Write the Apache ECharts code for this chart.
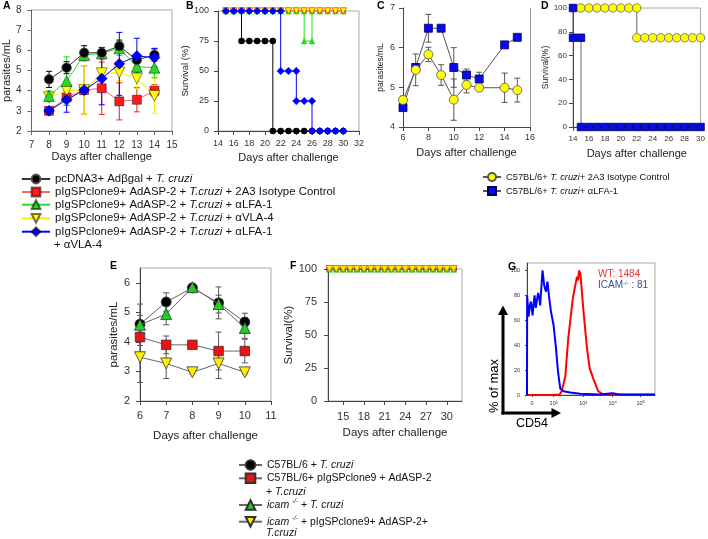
<!DOCTYPE html>
<html><head><meta charset="utf-8">
<script src="https://cdn.jsdelivr.net/npm/echarts@6/dist/echarts.min.js"></script>
<style>html,body{margin:0;padding:0;background:#fff}#c{width:708px;height:539px}</style>
</head><body><div id="c"></div><script>
// ---------------- DATA ----------------
// Panel A : parasitemia
const daysA = [8, 9, 10, 11, 12, 13, 14];
const aBlack = [4.56, 5.14, 5.88, 5.88, 6.21, 5.52, 5.77];
const aBlackErr = [0.4, 0.3, 0.35, 0.25, 0.3, 0.3, 0.3];
const aRed = [3.0, 3.67, 4.03, 4.12, 3.47, 3.55, 4.0];
const aRedErr = [0.1, 0.4, 1.2, 1.3, 0.92, 0.6, 0.3];
const aGreen = [3.74, 4.48, 5.77, 5.85, 6.1, 5.19, 5.14];
const aGreenErr = [0.25, 1.2, 0.3, 0.3, 0.35, 0.3, 0.5];
const aYellow = [3.67, 4.0, 4.03, 4.86, 4.9, 4.6, 3.74];
const aYellowErr = [0.2, 0.5, 1.2, 0.3, 0.4, 0.5, 0.86];
const aBlue = [3.0, 3.55, 4.03, 4.6, 5.33, 5.72, 5.64];
const aBlueErr = [0.1, 0.62, 0.2, 1.3, 1.56, 0.88, 0.46];

// Panel B : survival
const bBlackDays = [15,16,17,17,18,19,20,21,21,22,23,24,25,26,27,28,29,30];
const bBlackSurv = [100,100,100,75,75,75,75,75,0,0,0,0,0,0,0,0,0,0];
const bRedDays = [15,16,17,18,19,20,21,22,23,24,25,26,27,28,29,30];
const bRedSurv = [100,100,100,100,100,100,100,100,100,100,100,100,100,100,100,100];
const bGreenDays = [15,16,17,18,19,20,21,22,23,24,25,25,26,26,27,28,29,30];
const bGreenSurv = [100,100,100,100,100,100,100,100,100,100,100,75,75,100,100,100,100,100];
const bYellowDays = [15,16,17,18,19,20,21,22,23,24,25,26,27,28,29,30];
const bYellowSurv = [100,100,100,100,100,100,100,100,100,100,100,100,100,100,100,100];
const bBlueDays = [15,16,17,18,19,20,21,22,22,23,24,24,25,26,26,27,28,29,30];
const bBlueSurv = [100,100,100,100,100,100,100,100,50,50,50,25,25,25,0,0,0,0,0];

// Panel C : parasitemia
const daysC = [6, 7, 8, 9, 10, 11, 12, 14, 15];
const cYellow = [4.68, 5.44, 5.83, 5.31, 4.69, 5.06, 4.99, 4.99, 4.93];
const cYellowErr = [0.1, 0.4, 0.18, 0.26, 0.52, 0.2, 0.05, 0.37, 0.3];
const cBlue = [4.49, 5.5, 6.49, 6.49, 5.5, 5.31, 5.21, 6.07, 6.26];
const cBlueErr = [0.05, 0.1, 0.35, 0.05, 0.5, 0.15, 0.17, 0, 0];

// Panel D : survival
const dYellowDays = [15,16,17,18,19,20,21,22,22,23,24,25,26,27,28,29,30];
const dYellowSurv = [100,100,100,100,100,100,100,100,75,75,75,75,75,75,75,75,75];
const dBlueDays = [14,14,15,15,16,17,18,19,20,21,22,23,24,25,26,27,28,29,30];
const dBlueSurv = [100,75,75,0,0,0,0,0,0,0,0,0,0,0,0,0,0,0,0];

// Panel E : parasitemia
const daysE = [6, 7, 8, 9, 10];
const eBlack = [4.6, 5.35, 5.83, 5.32, 4.67];
const eBlackErr = [0.3, 0.31, 0.05, 0.54, 0.3];
const eRed = [4.16, 3.9, 3.9, 3.69, 3.69];
const eRedErr = [0.15, 0.3, 0.05, 0.64, 0.4];
const eGreen = [4.58, 4.94, 5.85, 5.28, 4.47];
const eGreenErr = [0.7, 0.36, 0.05, 0.3, 0.35];
const eYellow = [3.48, 3.27, 2.97, 3.27, 2.97];
const eYellowErr = [0.85, 0.51, 0.05, 0.51, 0.05];
const eYTicks = [2, 3, 4, 5, 6];

// Panel F : survival (all 100%)
const daysF = [13,14,15,16,17,18,19,20,21,22,23,24,25,26,27,28,29,30,31];
const fSurv = [100,100,100,100,100,100,100,100,100,100,100,100,100,100,100,100,100,100,100];
const fXTicks = [15, 18, 21, 24, 27, 30];

// Panel G : CD54 histogram (channel position, % of max)
const gBlueX = [-17,-16.5,-11.6,-7,-3.4,2,6,8.9,13,17,21,25,28,30.7,36,42,48,53,59,65,74,82,89,97,108,131,165,233,274,301,421];
const gBlueY = [0,80,63,72,75,64,74,80,70,76,82,78,72,72,100,88,83,91,78,67,56,38,19,5,3,2,1,0.5,1.5,0.5,0.5];
const gRedX = [-17,60,95,102,114,124,140,154,158,161,166,176,188,197,210,227,243,300,421];
const gRedY = [0,0,0.5,3,15,45,78,95,92,100,97,68,38,22,13,3,0.5,0.3,0.3];
const gTickPos = [0, 74, 175, 276, 372];
const gTickLab = ['0', '10²', '10³', '10⁴', '10⁵'];
const gYTicks = [0, 20, 40, 60, 80, 100];

// Legend names
const NA = ['pcDNA3+ Adβgal + T. cruzi',
  'pIgSPclone9+ AdASP-2 + T.cruzi + 2A3 Isotype Control',
  'pIgSPclone9+ AdASP-2 + T.cruzi + αLFA-1',
  'pIgSPclone9+ AdASP-2 + T.cruzi + αVLA-4',
  'pIgSPclone9+ AdASP-2 + T.cruzi + αLFA-1 + αVLA-4'];
const NC = ['C57BL/6+ T. cruzi+ 2A3 Isotype Control', 'C57BL/6+ T. cruzi+ αLFA-1'];
const NE = ['C57BL/6 + T. cruzi', 'C57BL/6+ pIgSPclone9 + AdASP-2 + T.cruzi',
  'icam-/- + T. cruzi', 'icam-/- + pIgSPclone9+ AdASP-2+ T.cruzi'];

// ---------------- CHART ----------------
const FF = '"Liberation Sans", Arial, sans-serif';
const richMap = {};
richMap[NA[0]] = '{r|pcDNA3+ Adβgal + }{i|T. cruzi}';
richMap[NA[1]] = '{r|pIgSPclone9+ AdASP-2 + }{i|T.cruzi}{r| + 2A3 Isotype Control}';
richMap[NA[2]] = '{r|pIgSPclone9+ AdASP-2 + }{i|T.cruzi}{r| + αLFA-1}';
richMap[NA[3]] = '{r|pIgSPclone9+ AdASP-2 + }{i|T.cruzi}{r| + αVLA-4}';
richMap[NA[4]] = '{r|pIgSPclone9+ AdASP-2 + }{i|T.cruzi}{r| + αLFA-1}';
richMap[NC[0]] = '{r|C57BL/6+ }{i|T. cruzi}{r|+ 2A3 Isotype Control}';
richMap[NC[1]] = '{r|C57BL/6+ }{i|T. cruzi}{r|+ αLFA-1}';
richMap[NE[0]] = '{r|C57BL/6 + }{i|T. cruzi}';
richMap[NE[1]] = '{r|C57BL/6+ pIgSPclone9 + AdASP-2}';
richMap[NE[2]] = '{i|icam }{s|-/-}{r| + }{i|T. cruzi}';
richMap[NE[3]] = '{i|icam }{s|-/-}{r| + pIgSPclone9+ AdASP-2+}';

function mkRich(fs, lh) {
  return {
    r: {fontFamily: FF, fontSize: fs, color: '#111', lineHeight: lh},
    i: {fontFamily: FF, fontSize: fs, color: '#111', lineHeight: lh, fontStyle: 'italic'},
    s: {fontFamily: FF, fontSize: fs * 0.6, color: '#111', lineHeight: lh, fontStyle: 'italic', verticalAlign: 'top'}
  };
}
function leg(name, left, cy, iw, ih, lh, fs) {
  return {show: true, data: [name], left: left, top: cy - lh / 2, padding: 0,
    itemWidth: iw, itemHeight: ih, itemGap: 0, orient: 'horizontal', selectedMode: false,
    formatter: n => richMap[n],
    textStyle: {fontFamily: FF, fontSize: fs, color: '#111', lineHeight: lh, rich: mkRich(fs, lh)}};
}

function ax(o) {
  const a = {
    type: 'value', gridIndex: o.g, min: o.min, max: o.max, interval: o.iv,
    name: o.name || '', nameLocation: 'middle', nameGap: o.ng || 20,
    nameTextStyle: {fontFamily: FF, fontSize: o.nfs || 11, color: '#222'},
    axisLine: {show: true, onZero: false, lineStyle: {color: o.lc || '#444', width: 1}},
    axisTick: {show: o.noTick ? false : true, length: o.tl || 4, lineStyle: {color: o.lc || '#444'}},
    axisLabel: {show: o.noLab ? false : true, fontFamily: FF, fontSize: o.fs || 9, color: '#333', margin: o.m || 8},
    splitLine: {show: false}
  };
  if (o.cv) { a.axisTick.customValues = o.cv; a.axisLabel.customValues = o.cv; }
  if (o.fmt) a.axisLabel.formatter = o.fmt;
  if (o.pos) a.position = o.pos;
  return a;
}
function grid(l, t, w, h, border) {
  return {left: l, top: t, width: w, height: h, containLabel: false,
    show: !!border, borderColor: '#aaa', borderWidth: 1, backgroundColor: 'transparent'};
}
function pairs(xs, ys) { return xs.map((x, i) => [x, ys[i]]); }
function triples(xs, ys, es) { return xs.map((x, i) => [x, ys[i], es[i]]); }

function lineS(name, xi, yi, data, sym, size, fill, lineColor, border, z, rot) {
  return {type: 'line', name: name, xAxisIndex: xi, yAxisIndex: yi, data: data,
    symbol: sym, symbolSize: size, symbolRotate: rot || 0, showSymbol: true,
    lineStyle: {color: lineColor, width: 1},
    itemStyle: {color: fill, borderColor: border || fill, borderWidth: border ? 0.8 : 0, opacity: 1},
    emphasis: {disabled: true}, animation: false, z: z || 3, clip: false};
}
function errS(xi, yi, data, color, cap) {
  return {type: 'custom', xAxisIndex: xi, yAxisIndex: yi, data: data, z: 2, animation: false,
    encode: {x: 0, y: 1},
    renderItem: function (params, api) {
      const x = api.value(0), y = api.value(1), e = api.value(2);
      if (!e) return null;
      const hi = api.coord([x, y + e]), lo = api.coord([x, y - e]);
      const st = {stroke: color, lineWidth: 1};
      return {type: 'group', children: [
        {type: 'line', shape: {x1: hi[0], y1: hi[1], x2: lo[0], y2: lo[1]}, style: st},
        {type: 'line', shape: {x1: hi[0] - cap, y1: hi[1], x2: hi[0] + cap, y2: hi[1]}, style: st},
        {type: 'line', shape: {x1: lo[0] - cap, y1: lo[1], x2: lo[0] + cap, y2: lo[1]}, style: st}
      ]};
    }};
}

const grids = [
  grid(29, 10, 143, 121, true),    // A 0
  grid(218, 11, 141, 120, true),   // B 1
  grid(403, 8, 127, 119, false),   // C 2
  grid(573, 8, 128, 119, true),    // D 3
  grid(140, 268, 131, 133, true),  // E 4
  grid(328, 269, 134, 132, true),  // F 5
  grid(527, 263, 128, 132, true)   // G 6
];
const xAxes = [
  ax({g: 0, min: 7, max: 15, iv: 1, fs: 10, m: 9, name: 'Days after challenge', ng: 20, nfs: 11, lc: '#666'}),
  ax({g: 1, min: 14, max: 32, iv: 2, fs: 9, m: 8, name: 'Days after challenge', ng: 21, nfs: 11}),
  ax({g: 2, min: 6, max: 16, iv: 2, fs: 9, m: 6, name: 'Days after challenge', ng: 20, nfs: 11}),
  ax({g: 3, min: 14, max: 30, iv: 2, fs: 8, m: 8, name: 'Days after challenge', ng: 21, nfs: 11}),
  ax({g: 4, min: 6, max: 11, iv: 1, fs: 11, m: 9, name: 'Days after challenge', ng: 29, nfs: 11.5}),
  ax({g: 5, min: 12.8, max: 32.2, iv: 3, cv: fXTicks, fs: 11, m: 10, name: 'Days after challenge', ng: 26, nfs: 11.5}),
  ax({g: 6, min: -17, max: 421, iv: 100, cv: gTickPos, fs: 5.5, m: 5, tl: 2,
      fmt: v => { const k = gTickPos.indexOf(v); return k >= 0 ? gTickLab[k] : ''; }})
];
const yAxes = [
  ax({g: 0, min: 2, max: 8, iv: 1, fs: 10, m: 10, name: 'parasites/mL', ng: 19, nfs: 11, lc: '#666'}),
  ax({g: 1, min: 0, max: 100, iv: 25, fs: 9, m: 9, name: 'Survival (%)', ng: 23, nfs: 9.5}),
  ax({g: 2, min: 4, max: 7, iv: 1, fs: 9, m: 8, name: 'parasites/mL', ng: 18, nfs: 8.5}),
  ax({g: 3, min: 0, max: 100, iv: 20, fs: 8, m: 6, name: 'Survival(%)', ng: 20, nfs: 8.5}),
  ax({g: 4, min: 2, max: 6.5, iv: 1, cv: eYTicks, fs: 11, m: 10, name: 'parasites/mL', ng: 20, nfs: 11.5}),
  ax({g: 5, min: 0, max: 100, iv: 25, fs: 11, m: 11, name: 'Survival(%)', ng: 28, nfs: 11.5}),
  ax({g: 6, min: 0, max: 106, iv: 20, cv: gYTicks, fs: 5.5, m: 7, tl: 2}),
  ax({g: 2, min: 4, max: 7, iv: 1, pos: 'right', noTick: true, noLab: true, lc: '#999'})
];

const K = '#000', R = '#ff1a1a', G = '#22dd22', Y = '#ffff00', B = '#0000ff';
const dark = 'rgba(0,0,0,0.55)';
const series = [
  // A
  errS(0, 0, triples(daysA, aRed, aRedErr), R, 3),
  errS(0, 0, triples(daysA, aYellow, aYellowErr), '#f2f200', 3),
  errS(0, 0, triples(daysA, aGreen, aGreenErr), G, 3),
  errS(0, 0, triples(daysA, aBlack, aBlackErr), K, 3),
  errS(0, 0, triples(daysA, aBlue, aBlueErr), B, 3),
  lineS(NA[1], 0, 0, pairs(daysA, aRed), 'rect', 9, R, '#ff6666', dark, 3),
  lineS(NA[3], 0, 0, pairs(daysA, aYellow), 'triangle', 11, Y, '#f2f200', dark, 4, 180),
  lineS(NA[2], 0, 0, pairs(daysA, aGreen), 'triangle', 11, G, G, dark, 5),
  lineS(NA[0], 0, 0, pairs(daysA, aBlack), 'circle', 9.5, K, '#333', '#555', 6),
  lineS(NA[4], 0, 0, pairs(daysA, aBlue), 'diamond', 11, B, B, dark, 7),
  // B
  lineS(NA[0], 1, 1, pairs(bBlackDays, bBlackSurv), 'circle', 6.5, K, K, null, 3),
  lineS(NA[1], 1, 1, pairs(bRedDays, bRedSurv), 'rect', 5, R, '#ff6600', null, 4),
  lineS(NA[2], 1, 1, pairs(bGreenDays, bGreenSurv), 'triangle', 6.5, G, G, null, 5),
  lineS(NA[3], 1, 1, pairs(bYellowDays, bYellowSurv), 'triangle', 6.5, Y, '#ff9900', '#ff3300', 6, 180),
  lineS(NA[4], 1, 1, pairs(bBlueDays, bBlueSurv), 'diamond', 8, B, B, null, 7),
  // C
  errS(2, 2, triples(daysC, cYellow, cYellowErr), '#555', 3),
  errS(2, 2, triples(daysC, cBlue, cBlueErr), '#555', 3),
  lineS(NC[1], 2, 2, pairs(daysC, cBlue), 'rect', 8, '#0a0ae6', '#555', '#000066', 4),
  lineS(NC[0], 2, 2, pairs(daysC, cYellow), 'circle', 9, '#ffff00', '#555', '#555', 5),
  // D
  lineS(NC[0], 3, 3, pairs(dYellowDays, dYellowSurv), 'circle', 8.5, '#ffff00', '#666', '#666', 4),
  lineS(NC[1], 3, 3, pairs(dBlueDays, dBlueSurv), 'rect', 7.5, '#0a0ae6', '#666', '#000066', 5),
  // E
  errS(4, 4, triples(daysE, eBlack, eBlackErr), '#555', 3),
  errS(4, 4, triples(daysE, eRed, eRedErr), '#555', 3),
  errS(4, 4, triples(daysE, eGreen, eGreenErr), '#555', 3),
  errS(4, 4, triples(daysE, eYellow, eYellowErr), '#555', 3),
  lineS(NE[1], 4, 4, pairs(daysE, eRed), 'rect', 9.5, '#ee1111', '#666', '#333', 3),
  lineS(NE[3], 4, 4, pairs(daysE, eYellow), 'triangle', 11, '#ffee00', '#666', '#333', 4, 180),
  lineS(NE[0], 4, 4, pairs(daysE, eBlack), 'circle', 10, '#000', '#666', '#333', 5),
  lineS(NE[2], 4, 4, pairs(daysE, eGreen), 'triangle', 11, '#22cc22', '#666', '#333', 6),
  // F
  lineS('F-black', 5, 5, pairs(daysF, fSurv), 'circle', 6, '#000', '#666', null, 3),
  lineS('F-red', 5, 5, pairs(daysF, fSurv), 'rect', 5, '#ee1111', '#cc3300', null, 4),
  lineS('F-green', 5, 5, pairs(daysF, fSurv), 'triangle', 7, '#22cc22', '#cc3300', null, 5),
  lineS('F-yellow', 5, 5, pairs(daysF, fSurv), 'triangle', 7, '#ffee00', '#cc6600', '#aa7700', 6, 180),
  // G
  {type: 'line', xAxisIndex: 6, yAxisIndex: 6, data: pairs(gRedX, gRedY), showSymbol: false, symbol: 'none',
   lineStyle: {color: '#ff0000', width: 2}, animation: false, z: 3},
  {type: 'line', xAxisIndex: 6, yAxisIndex: 6, data: pairs(gBlueX, gBlueY), showSymbol: false, symbol: 'none',
   lineStyle: {color: '#0000ff', width: 2}, animation: false, z: 4}
];

const LFS = 11.4;
const legends = [
  leg(NA[0], 21, 179, 28, 11, 13, LFS),
  leg(NA[1], 21, 192, 28, 11, 13, LFS),
  leg(NA[2], 21, 204.7, 28, 11, 13, LFS),
  leg(NA[3], 21, 218.3, 28, 11, 13, LFS),
  leg(NA[4], 21, 231.7, 28, 11, 13, LFS),
  leg(NC[0], 482, 177, 18, 10, 12, 9.3),
  leg(NC[1], 482, 191, 18, 10, 12, 9.3),
  leg(NE[0], 238, 465, 23, 12, 13, 10.5),
  leg(NE[1], 238, 478.3, 23, 12, 13, 10.5),
  leg(NE[2], 238, 505, 23, 12, 13, 10.5),
  leg(NE[3], 238, 521.7, 23, 12, 13, 10.5)
];

function txt(x, y, text, font, fill, extra) {
  const o = {type: 'text', x: x, y: y, silent: true,
    style: Object.assign({text: text, font: font, fill: fill || '#000', align: 'left', verticalAlign: 'middle'}, extra || {})};
  return o;
}
const bold = 'bold 10.5px ' + FF;
const graphics = [
  txt(3, 6, 'A', bold), txt(186, 6, 'B', bold), txt(377, 6, 'C', bold), txt(541, 6, 'D', bold),
  txt(110, 266, 'E', bold), txt(290, 266, 'F', bold), txt(508, 267, 'G', bold),
  txt(54, 245, '+ αVLA-4', LFS + 'px ' + FF, '#111'),
  txt(266, 491.7, '{r|+ }{i|T.cruzi}', '10.5px ' + FF, '#111', {rich: mkRich(10.5, 13)}),
  txt(266, 533, '{i|T.cruzi}', '10.5px ' + FF, '#111', {rich: mkRich(10.5, 13)}),
  txt(598, 274, 'WT: 1484', '10px ' + FF, '#e8362f'),
  txt(598, 285.5, 'ICAM{s|-/-} : 81', '10px ' + FF, '#3c4a9c',
      {rich: {s: {fontFamily: FF, fontSize: 6, fill: '#3c4a9c', verticalAlign: 'top'}}}),
  // G arrows
  {type: 'line', silent: true, shape: {x1: 503, y1: 414.5, x2: 503, y2: 313}, style: {stroke: '#000', lineWidth: 3}},
  {type: 'polygon', silent: true, shape: {points: [[503, 305.5], [498, 315], [508, 315]]}, style: {fill: '#000'}},
  {type: 'line', silent: true, shape: {x1: 501.5, y1: 413, x2: 553, y2: 413}, style: {stroke: '#000', lineWidth: 3}},
  {type: 'polygon', silent: true, shape: {points: [[561, 413], [551.5, 408], [551.5, 418]]}, style: {fill: '#000'}},
  {type: 'text', silent: true, x: 494, y: 386, rotation: Math.PI / 2,
   style: {text: '% of max', font: '13px ' + FF, fill: '#000', align: 'center', verticalAlign: 'middle'}},
  txt(516, 423.5, 'CD54', '12.5px ' + FF, '#000')
];

const chart = echarts.init(document.getElementById('c'), null, {renderer: 'canvas'});
chart.setOption({
  animation: false,
  backgroundColor: '#fff',
  textStyle: {fontFamily: FF},
  grid: grids, xAxis: xAxes, yAxis: yAxes, series: series, legend: legends, graphic: graphics
});
</script></body></html>
